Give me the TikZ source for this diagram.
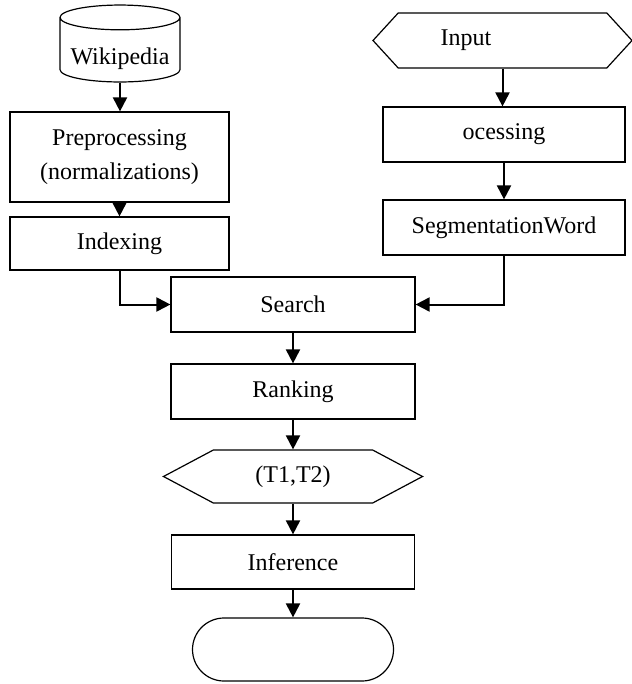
\documentclass[tikz,border=0pt]{standalone}
\usepackage{fontspec}
\setmainfont{Liberation Serif}
\usetikzlibrary{shapes.geometric}
\usetikzlibrary{shapes.symbols}
\usetikzlibrary{arrows.meta}

\begin{document}
\begin{tikzpicture}[x=0.5pt,y=-0.5pt,
  every node/.style={font=\fontsize{12}{17}\selectfont},
  box/.style={draw,line width=0.6pt,rectangle,inner sep=0pt},
  hexbox/.style={draw,line width=0.6pt,signal,signal to=west and east,inner sep=0pt},
  flow/.style={line width=1pt,-{Triangle[width=7pt,length=7pt]}}]

  \useasboundingbox (0,0) rectangle (631,684);

  % left column: corpus side
  \node[draw,line width=0.6pt,cylinder,shape border rotate=90,aspect=0.25,
        minimum width=60pt,minimum height=36.5pt,inner sep=0pt,
        text height=17pt,text depth=2.6pt] (wiki) at (120,50) {Wikipedia};
  \node[box,minimum width=109.5pt,minimum height=45pt,align=center] (prep) at (119.5,157)
        {Preprocessing\\(normalizations)};
  \node[box,minimum width=109.5pt,minimum height=26.5pt] (index) at (119.5,243.5) {Indexing};

  % right column: query side
  \node[hexbox,minimum width=129.5pt,minimum height=27.5pt,signal pointer angle=95,
        text width=62pt,align=left] (input) at (502.5,40.5) {Input};
  \node[box,minimum width=121pt,minimum height=27.5pt] (proc) at (504,134.5) {ocessing};
  \node[box,minimum width=121pt,minimum height=27.5pt] (segm) at (504,227.5) {SegmentationWord};

  % middle column
  \node[box,minimum width=122pt,minimum height=27.5pt] (search) at (293,304.5) {Search};
  \node[box,minimum width=122pt,minimum height=27.5pt] (rank) at (293,391.5) {Ranking};
  \node[hexbox,minimum width=129.5pt,minimum height=26.5pt,signal pointer angle=56] (pair) at (293,476.5) {(T1,T2)};
  \node[box,minimum width=121.5pt,minimum height=27pt] (infer) at (293,562) {Inference};
  \node[draw,line width=0.6pt,rectangle,rounded corners=15.75pt,
        minimum width=100.5pt,minimum height=31.5pt] (stop) at (293,649.5) {};

  \draw[flow] (wiki.south) -- (prep.north -| wiki.south);
  \draw[flow] (prep.south) -- (index.north);
  \draw[flow] (index.south) |- (search.west);

  \draw[flow] (input.south) -- (proc.north -| input.south);
  \draw[flow] (proc.south) -- (segm.north);
  \draw[flow] (segm.south) |- (search.east);

  \draw[flow] (search.south) -- (rank.north);
  \draw[flow] (rank.south) -- (pair.north);
  \draw[flow] (pair.south) -- (infer.north);
  \draw[flow] (infer.south) -- (stop.north);

\end{tikzpicture}
\end{document}
